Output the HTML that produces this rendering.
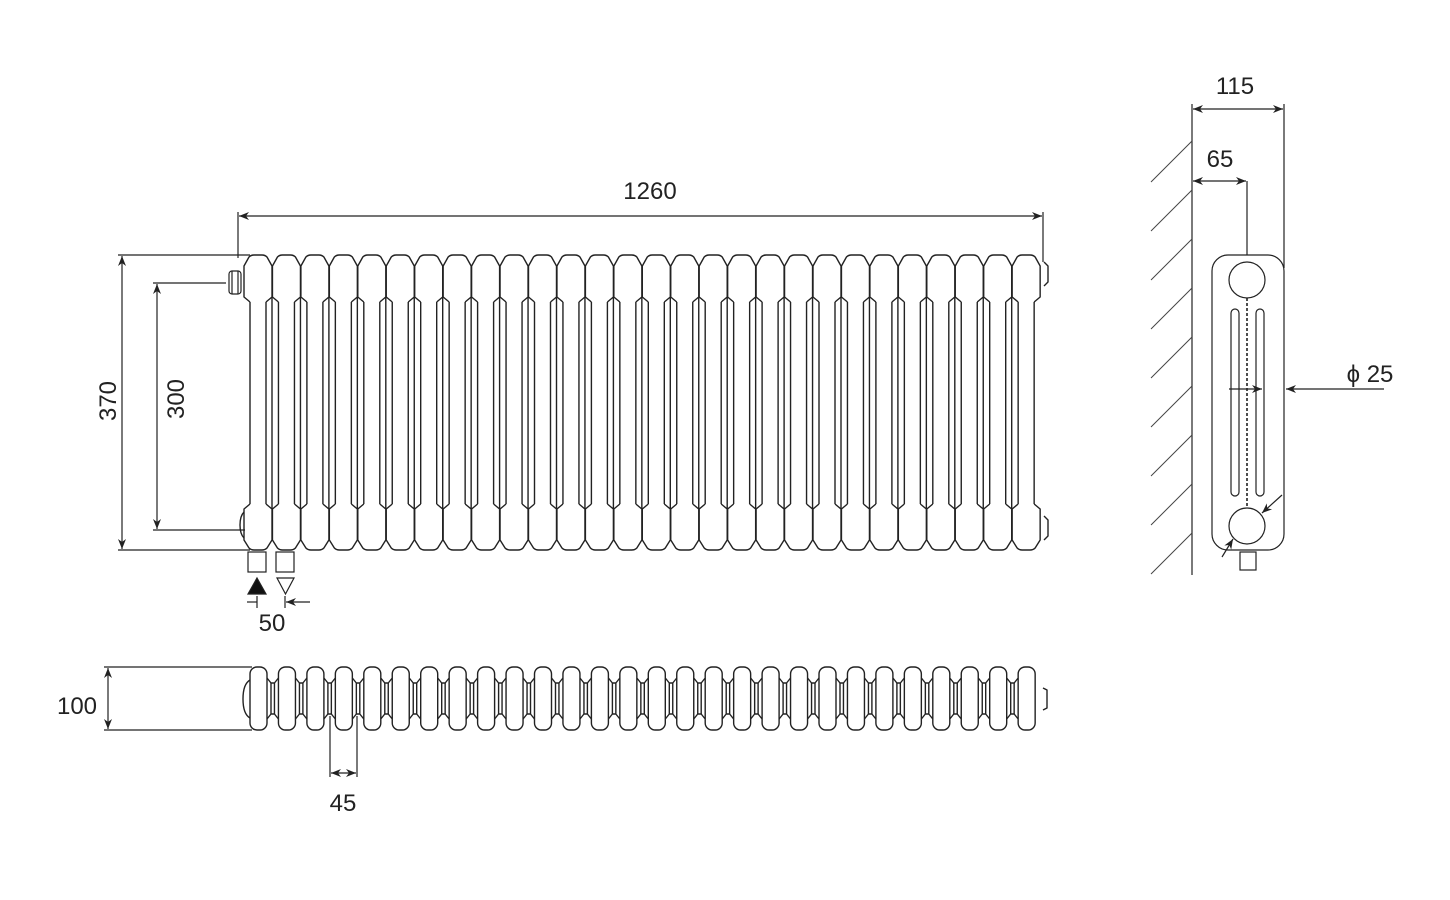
<!DOCTYPE html>
<html><head><meta charset="utf-8"><style>
html,body{margin:0;padding:0;background:#fff;}
svg{display:block;}
text{font-family:"Liberation Sans",Arial,sans-serif;fill:#222;}
</style></head><body>
<svg id="s" width="1450" height="900" viewBox="0 0 1450 900" xmlns="http://www.w3.org/2000/svg">
<defs>
<marker id="a" viewBox="0 0 10 10" refX="10" refY="5" markerWidth="10" markerHeight="10" orient="auto-start-reverse" markerUnits="userSpaceOnUse"><path d="M0,1 L10,5 L0,9 L3,5z" fill="#222"/></marker>
</defs>
<g id="cols" fill="none" stroke="#222" stroke-width="1.4" stroke-linejoin="round"></g>
<g fill="none" stroke="#222" stroke-width="1.2">
<line x1="238" y1="212" x2="238" y2="258"/><line x1="1043" y1="212" x2="1043" y2="262"/>
<line x1="239" y1="216" x2="1042" y2="216" marker-start="url(#a)" marker-end="url(#a)"/>
<line x1="118" y1="255" x2="250" y2="255"/><line x1="118" y1="550" x2="250" y2="550"/>
<line x1="122" y1="256" x2="122" y2="549" marker-start="url(#a)" marker-end="url(#a)"/>
<line x1="153" y1="283" x2="226" y2="283"/><line x1="153" y1="530" x2="245" y2="530"/>
<line x1="157" y1="284" x2="157" y2="529" marker-start="url(#a)" marker-end="url(#a)"/>
<rect x="248" y="552" width="18" height="20"/><rect x="276" y="552" width="18" height="20"/>
<polygon points="257,578 266,594 248,594" fill="#111"/>
<polygon points="277,578 294,578 285.5,594"/>
<line x1="257" y1="596" x2="257" y2="608"/><line x1="285" y1="596" x2="285" y2="608"/>
<line x1="247" y1="602" x2="257" y2="602"/>
<line x1="310" y1="602" x2="286" y2="602" marker-end="url(#a)"/>
<rect x="229" y="271" width="12" height="23" rx="3"/>
<line x1="232" y1="271" x2="232" y2="294"/><line x1="238" y1="271" x2="238" y2="294"/>
<line x1="104" y1="667" x2="252" y2="667"/><line x1="104" y1="730" x2="252" y2="730"/>
<line x1="108" y1="668" x2="108" y2="729" marker-start="url(#a)" marker-end="url(#a)"/>
<line x1="330" y1="716" x2="330" y2="777"/><line x1="357" y1="716" x2="357" y2="777"/>
<line x1="331" y1="773" x2="356" y2="773" marker-start="url(#a)" marker-end="url(#a)"/>
<line x1="1192" y1="104" x2="1192" y2="575"/>
<line x1="1284" y1="104" x2="1284" y2="268"/>
<line x1="1193" y1="109" x2="1283" y2="109" marker-start="url(#a)" marker-end="url(#a)"/>
<line x1="1193" y1="181" x2="1246" y2="181" marker-start="url(#a)" marker-end="url(#a)"/>
<line x1="1247" y1="181" x2="1247" y2="255"/>
<rect x="1212" y="255" width="72" height="295" rx="16"/>
<circle cx="1247" cy="280" r="18"/><circle cx="1247" cy="526" r="18"/>
<rect x="1231" y="309" width="8" height="187" rx="4"/><rect x="1256" y="309" width="8" height="187" rx="4"/>
<line x1="1247" y1="298" x2="1247" y2="508" stroke-dasharray="3,2" stroke-width="1.6"/>
<rect x="1240" y="552" width="16" height="18"/>
<line x1="1229" y1="389" x2="1262" y2="389" marker-end="url(#a)"/>
<line x1="1384" y1="389" x2="1286" y2="389" marker-end="url(#a)"/>
<line x1="1282" y1="495" x2="1262" y2="513" marker-end="url(#a)"/>
<line x1="1222" y1="557" x2="1233" y2="539" marker-end="url(#a)"/>
</g>
<g stroke="#444" stroke-width="1" id="hatch"></g>
<text x="650" y="199" font-size="24" text-anchor="middle">1260</text>
<text transform="translate(116,401) rotate(-90)" font-size="24" text-anchor="middle">370</text>
<text transform="translate(184,399) rotate(-90)" font-size="24" text-anchor="middle">300</text>
<text x="272" y="631" font-size="24" text-anchor="middle">50</text>
<text x="77" y="714" font-size="24" text-anchor="middle">100</text>
<text x="343" y="811" font-size="24" text-anchor="middle">45</text>
<text x="1235" y="94" font-size="24" text-anchor="middle">115</text>
<text x="1220" y="167" font-size="24" text-anchor="middle">65</text>
<text x="1370" y="382" font-size="24" text-anchor="middle">ϕ 25</text>
</svg>
<script>
var NS="http://www.w3.org/2000/svg",g=document.getElementById('cols');
function el(t,a){var e=document.createElementNS(NS,t);for(var k in a)e.setAttribute(k,a[k]);g.appendChild(e);return e;}
var p=28.45;
for(var i=0;i<28;i++){
 var c=258+p*i;
 var L=c-14,R=c+14,l=c-8,r=c+8;
 el('path',{d:'M'+l+',302 L'+L+',297 L'+L+',266 L'+(c-9)+',257 Q'+(c-7)+',255 '+(c-4)+',255 L'+(c+4)+',255 Q'+(c+7)+',255 '+(c+9)+',257 L'+R+',266 L'+R+',297 L'+r+',302'});
 el('path',{d:'M'+l+',504 L'+L+',509 L'+L+',540 L'+(c-9)+',548 Q'+(c-7)+',550 '+(c-4)+',550 L'+(c+4)+',550 Q'+(c+7)+',550 '+(c+9)+',548 L'+R+',540 L'+R+',509 L'+r+',504'});
 el('line',{x1:l,y1:302,x2:l,y2:504});el('line',{x1:r,y1:302,x2:r,y2:504});
 if(i<27) el('line',{x1:R,y1:297,x2:R,y2:509});
 var x=248+p*i;
 el('rect',{x:x+2,y:667,width:17,height:63,rx:7});
 if(i<27){
  var a=x+19,d=x+p+2;
  el('path',{d:'M'+a+',678 L'+(a+4)+',683 L'+(d-4)+',683 L'+d+',678'});
  el('path',{d:'M'+a+',719 L'+(a+4)+',714 L'+(d-4)+',714 L'+d+',719'});
  el('line',{x1:a+4,y1:683,x2:a+4,y2:714});el('line',{x1:d-4,y1:683,x2:d-4,y2:714});
 }
}
el('path',{d:'M250,680 Q243,684 243,699 Q243,714 250,718'});
el('path',{d:'M1043,688 L1047,690 L1047,708 L1043,710'});
el('path',{d:'M1044,262 L1048,266 L1048,282 L1044,286'});
el('path',{d:'M1044,516 L1048,520 L1048,536 L1044,540'});
el('path',{d:'M244,512 Q240,516 240,525 Q240,534 244,538'});
var h=document.getElementById('hatch');
for(var y=141;y<560;y+=49){var ln=document.createElementNS(NS,'line');ln.setAttribute('x1',1151);ln.setAttribute('y1',y+41);ln.setAttribute('x2',1192);ln.setAttribute('y2',y);h.appendChild(ln);}
</script>
</body></html>
